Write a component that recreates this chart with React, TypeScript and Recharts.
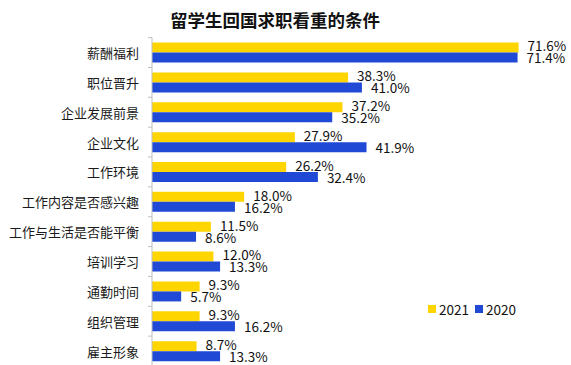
import React from 'react';
import { BarChart, Bar, XAxis, YAxis, LabelList } from 'recharts';

const categories = ['薪酬福利', '职位晋升', '企业发展前景', '企业文化', '工作环境', '工作内容是否感兴趣', '工作与生活是否能平衡', '培训学习', '通勤时间', '组织管理', '雇主形象'];
const values2021 = [71.6, 38.3, 37.2, 27.9, 26.2, 18.0, 11.5, 12.0, 9.3, 9.3, 8.7];
const values2020 = [71.4, 41.0, 35.2, 41.9, 32.4, 16.2, 8.6, 13.3, 5.7, 16.2, 13.3];
const seriesNames = ['2021', '2020'];
const title = '留学生回国求职看重的条件';

const data = categories.map((c, i) => ({ name: c, y2021: values2021[i], y2020: values2020[i] }));

const YELLOW = '#FFD500';
const BLUE = '#2049D6';
const COLORS = [YELLOW, BLUE];
const FONT = '"Noto Sans CJK SC", "Noto Sans", sans-serif';

const CatTick = (props: any) => {
  const { x, y, payload } = props;
  const half = payload && payload.offset ? payload.offset : 15;
  return (
    <g>
      <text x={x} y={y} dy={5.5} textAnchor="end" fontSize={13} fill="#1a1a1a" fontFamily={FONT}>
        {payload.value}
      </text>
      <line x1={152 - 4} x2={152} y1={y - half} y2={y - half} stroke="#BFBFBF" strokeWidth={1} />
    </g>
  );
};

const makeLabel = (dy: number) => (props: any) => {
  const { x, y, width, height, value } = props;
  return (
    <text
      x={Number(x) + Number(width) + 9}
      y={Number(y) + Number(height) / 2 + dy}
      dy={4.8}
      fontSize={13.5}
      fill="#111"
      fontFamily={FONT}
    >
      {Number(value).toFixed(1) + '%'}
    </text>
  );
};

export default function App() {
  return (
    <div style={{ position: 'absolute', left: 0, top: 0, width: 571, height: 365, overflow: 'hidden', background: '#fff' }}>
      <div
        style={{
          position: 'absolute',
          left: 0,
          width: 550,
          top: 8,
          textAlign: 'center',
          fontFamily: FONT,
          fontWeight: 700,
          fontSize: 17.5,
          lineHeight: '24px',
          color: '#111',
        }}
      >
        {title}
      </div>
      <div
        style={{
          position: 'absolute',
          left: 428,
          top: 300,
          display: 'flex',
          alignItems: 'center',
          fontFamily: FONT,
          fontSize: 13.5,
          color: '#111',
          lineHeight: '18px',
          zIndex: 2,
        }}
      >
        {seriesNames.map((n, i) => (
          <span key={n} style={{ display: 'inline-flex', alignItems: 'center', marginRight: 6 }}>
            <span style={{ display: 'inline-block', width: 8, height: 8, background: COLORS[i], marginRight: 3 }} />
            {n}
          </span>
        ))}
      </div>
      <BarChart
        width={571}
        height={366}
        data={data}
        layout="vertical"
        margin={{ top: 37.6, right: 9.4, bottom: 0, left: 0 }}
        barGap={0}
        barSize={10}
      >
        <XAxis type="number" domain={[0, 80]} hide />
        <YAxis
          type="category"
          dataKey="name"
          width={152}
          axisLine={{ stroke: '#BFBFBF' }}
          tickLine={false}
          tickSize={4}
          tickMargin={9}
          tick={<CatTick />}
          interval={0}
        />
        <Bar dataKey="y2021" name="2021" fill={YELLOW} isAnimationActive={false}>
          <LabelList dataKey="y2021" content={makeLabel(-1)} />
        </Bar>
        <Bar dataKey="y2020" name="2020" fill={BLUE} isAnimationActive={false}>
          <LabelList dataKey="y2020" content={makeLabel(1)} />
        </Bar>
      </BarChart>
    </div>
  );
}
